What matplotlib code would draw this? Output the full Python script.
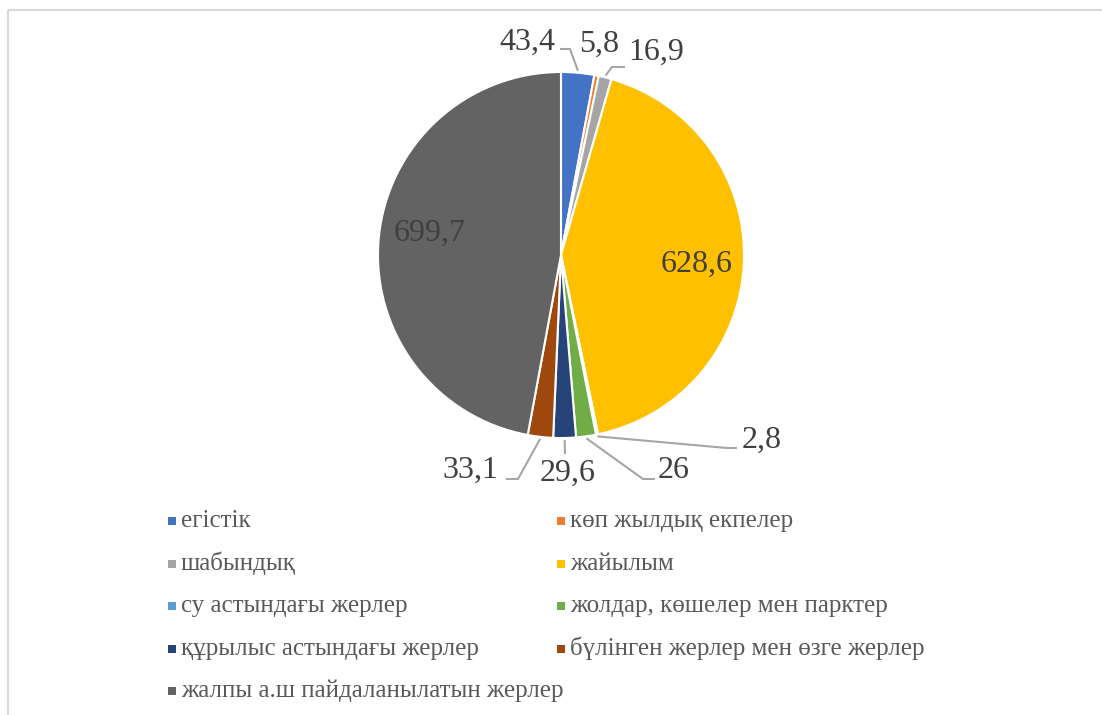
import matplotlib.pyplot as plt
from matplotlib.patches import Rectangle
import numpy as np

plt.rcParams['font.family'] = ['Liberation Serif', 'DejaVu Serif']

# data
names = ['егістік', 'көп жылдық екпелер', 'шабындық', 'жайылым',
         'су астындағы жерлер', 'жолдар, көшелер мен парктер',
         'құрылыс астындағы жерлер', 'бүлінген жерлер мен өзге жерлер',
         'жалпы а.ш пайдаланылатын жерлер']
values = [43.4, 5.8, 16.9, 628.6, 2.8, 26, 29.6, 33.1, 699.7]
value_labels = ['43,4', '5,8', '16,9', '628,6', '2,8', '26', '29,6', '33,1', '699,7']
colors = ['#4472C4', '#ED7D31', '#A5A5A5', '#FFC000', '#5B9BD5',
          '#70AD47', '#264478', '#9E480E', '#636363']

W, H = 1102, 715
cx, cy, R = 561, 255, 183

fig = plt.figure(figsize=(W / 100, H / 100), dpi=100)
ax = fig.add_axes([0, 0, 1, 1])

wedges, _ = ax.pie(values, colors=colors, radius=R, center=(cx, cy),
                   startangle=-90, counterclock=True,
                   explode=[0.012] * len(values),
                   wedgeprops=dict(edgecolor='white', linewidth=1.5))
ax.set_xlim(0, W)
ax.set_ylim(H, 0)
ax.set_aspect('equal')
ax.axis('off')

# label layout: (text x, text y, ha, leader points after the wedge anchor)
label_pos = {
    0: (555, 42, 'right', [(570, 49), (560, 49)]),
    1: (599, 44, 'center', None),
    2: (628, 52, 'left', [(612, 67), (625, 67)]),
    3: (697, 264, 'center', None),
    4: (742, 440, 'left', [(727, 448), (737, 448)]),
    5: (658, 470, 'left', [(643, 479), (655, 479)]),
    6: (568, 473, 'center', [(565, 454)]),
    7: (498, 470, 'right', [(518, 479), (506, 479)]),
    8: (430, 233, 'center', None),
}
txt_col = '#404040'
for i, w in enumerate(wedges):
    tx, ty, ha, pts = label_pos[i]
    if pts is not None:
        a = np.deg2rad((w.theta1 + w.theta2) / 2)
        ax0 = cx + (R + 2) * np.cos(a)
        ay0 = cy + (R + 2) * np.sin(a)
        xs = [ax0] + [p[0] for p in pts]
        ys = [ay0] + [p[1] for p in pts]
        ax.plot(xs, ys, color='#A6A6A6', lw=1.5, solid_capstyle='butt')
    ax.text(tx, ty, value_labels[i], ha=ha, va='center', fontsize=23, color=txt_col)

# legend, row-wise in two columns
col_x = [172, 561]
row_y0, row_dy = 521, 42.5
for i, name in enumerate(names):
    x = col_x[i % 2]
    y = row_y0 + (i // 2) * row_dy
    ax.scatter([x], [y], marker='s', s=30, color=colors[i], linewidths=0)
    ax.text(x + 9, y, name, ha='left', va='center', fontsize=18, color='#595959')

# chart border
ax.add_patch(Rectangle((8, 10), W + 20, H + 20, fill=False,
                       edgecolor='#D9D9D9', lw=1.5, clip_on=False))

fig.savefig('out.png', dpi=100)
